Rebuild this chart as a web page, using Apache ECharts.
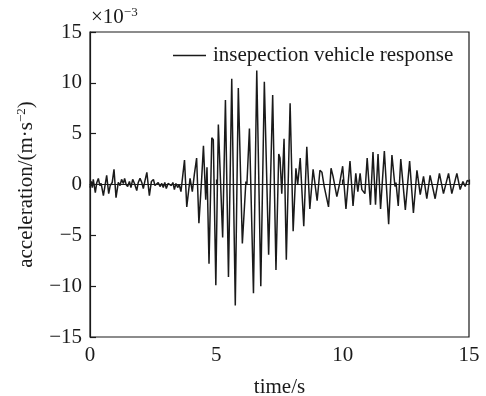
<!DOCTYPE html>
<html>
<head>
<meta charset="utf-8">
<script src="https://cdn.jsdelivr.net/npm/echarts@6/dist/echarts.min.js"></script>
<style>
  html, body { margin: 0; padding: 0; background: #fff; }
  #chart { width: 486px; height: 396px; }
</style>
</head>
<body>
<div id="chart"></div>
<script>
// Vertical acceleration of the inspection vehicle (values in units of 1e-3 m/s^2)
const timeS = [
  0.00, 0.05, 0.09, 0.13, 0.21, 0.27, 0.33, 0.39, 0.44, 0.53, 0.66, 0.74, 0.80, 0.88, 0.95,
  1.03, 1.12, 1.19, 1.25, 1.32, 1.37, 1.43, 1.49, 1.56, 1.62, 1.69, 1.76, 1.85, 1.91, 1.98,
  2.05, 2.11, 2.17, 2.25, 2.35, 2.43, 2.51, 2.57, 2.64, 2.70, 2.77, 2.84, 2.90, 2.96, 3.02,
  3.09, 3.16, 3.22, 3.28, 3.34, 3.40, 3.47, 3.53, 3.60, 3.74, 3.83, 3.96, 4.05, 4.13, 4.22,
  4.31, 4.42, 4.49, 4.58, 4.63, 4.71, 4.82, 4.88, 4.98, 5.08, 5.25, 5.36, 5.48, 5.61, 5.75,
  5.87, 6.03, 6.17, 6.21, 6.31, 6.47, 6.60, 6.76, 6.90, 7.07, 7.23, 7.36, 7.47, 7.52, 7.59,
  7.68, 7.77, 7.92, 8.04, 8.15, 8.22, 8.32, 8.46, 8.58, 8.70, 8.83, 8.99, 9.10, 9.18, 9.27,
  9.44, 9.54, 9.62, 9.77, 9.88, 10.00, 10.13, 10.29, 10.41, 10.52, 10.60, 10.69, 10.76, 10.83, 10.88,
  10.97, 11.10, 11.20, 11.30, 11.40, 11.50, 11.65, 11.82, 11.95, 12.07, 12.11, 12.20, 12.30, 12.48, 12.65,
  12.80, 12.94, 13.07, 13.20, 13.33, 13.46, 13.66, 13.83, 13.99, 14.19, 14.32, 14.52, 14.65, 14.76, 14.85,
  14.93, 15.00
];
const accel = [
  -0.3, 0.3, -0.3, 0.5, -0.8, 0.2, 0.6, -0.1, 0.1, -1.1, 0.9, -0.9, -0.1, 0.2, 1.5,
  -1.3, 0.2, -0.1, 0.5, 0.1, 0.6, 0.0, -0.2, 0.3, -0.3, 0.5, 0.1, -0.6, 0.2, 0.6,
  0.2, -0.4, 0.3, 1.2, -1.1, 0.3, 0.5, -0.1, 0.0, 0.2, -0.2, 0.1, -0.3, 0.2, -0.4,
  0.1, 0.0, -0.1, 0.2, -0.5, 0.1, -0.3, 0.0, -0.7, 2.4, -2.2, 0.6, -0.7, 1.0, 2.6,
  -3.8, 0.6, 3.8, -1.5, 1.7, -7.8, 4.6, 4.4, -9.9, 5.9, -5.2, 8.3, -9.1, 10.4, -11.9,
  9.5, -5.8, 0.3, 0.0, 5.5, -10.7, 11.2, -10.0, 10.1, -6.9, 8.8, -8.4, 3.0, 2.6, -0.9,
  4.5, -7.4, 8.0, -4.6, 1.6, 0.0, 2.6, -4.1, 3.7, -2.4, 1.5, -1.6, 1.4, 1.2, -0.2,
  -2.2, 1.6, 0.8, -1.2, 0.1, 1.8, -2.4, 2.3, -2.1, 1.1, -0.7, 1.1, -0.5, -0.4, -0.9,
  2.6, -2.0, 3.2, -2.0, 3.0, -2.4, 3.3, -3.9, 2.9, -0.2, 0.2, -2.1, 2.5, -2.5, 2.3,
  -2.8, 1.4, -1.0, 0.8, -1.4, 0.9, -1.4, 1.1, -0.9, 1.1, -0.9, 1.1, -0.5, 0.3, -0.2,
  0.4, 0.3
];
const xTicks = [0, 5, 10, 15];
const yTicks = [-15, -10, -5, 0, 5, 10, 15];

const FONT = '"Liberation Serif", "DejaVu Serif", serif';
const INK = '#1a1a1a';
const FS = 21;

const fmtNum = v => (v < 0 ? '\u2212' + Math.abs(v) : String(v));
const supStyle = { fontFamily: FONT, fontSize: 13, color: INK, fill: INK, verticalAlign: 'top', padding: [0, 0, 9, 0] };

const chart = echarts.init(document.getElementById('chart'), null, { renderer: 'canvas' });

chart.setOption({
  animation: false,
  backgroundColor: '#fff',
  grid: {
    left: 90, right: 17, top: 32, bottom: 59,
    outerBoundsMode: 'none', containLabel: false,
    show: true, borderColor: INK, borderWidth: 1.2, backgroundColor: 'transparent'
  },
  legend: {
    data: ['insepection vehicle response'],
    left: 168, top: 40,
    icon: 'rect', itemWidth: 33, itemHeight: 1.3, itemGap: 6,
    textStyle: { fontFamily: FONT, fontSize: FS, color: INK, padding: [0, 0, 0, 2] }
  },
  xAxis: {
    type: 'value', min: xTicks[0], max: xTicks[xTicks.length - 1], interval: 5,
    name: 'time/s', nameLocation: 'middle', nameGap: 40,
    nameTextStyle: { fontFamily: FONT, fontSize: FS, color: INK },
    axisLine: { lineStyle: { color: INK, width: 1.2 } },
    axisTick: { inside: true, length: 5, lineStyle: { color: INK, width: 1.2 } },
    axisLabel: { fontFamily: FONT, fontSize: FS, color: INK, margin: 8, formatter: fmtNum },
    splitLine: { show: false }
  },
  yAxis: {
    type: 'value', min: yTicks[0], max: yTicks[yTicks.length - 1], interval: 5,
    name: 'acceleration/(m\u00b7s{sup|\u22122})', nameLocation: 'middle', nameGap: 53, nameRotate: 90,
    nameTextStyle: { fontFamily: FONT, fontSize: FS, color: INK, rich: { sup: supStyle } },
    axisLine: { lineStyle: { color: INK, width: 1.2 } },
    axisTick: { inside: true, length: 6, lineStyle: { color: INK, width: 1.2 } },
    axisLabel: { fontFamily: FONT, fontSize: FS, color: INK, margin: 8, formatter: fmtNum },
    splitLine: { show: false }
  },
  graphic: [{
    type: 'text', left: 91, top: 6,
    style: {
      text: '\u00d710{sup|\u22123}',
      fontFamily: FONT, fontSize: FS, fill: INK,
      rich: { sup: supStyle }
    }
  }],
  series: [{
    name: 'insepection vehicle response',
    type: 'line',
    data: timeS.map((t, i) => [t, accel[i]]),
    symbol: 'none',
    lineStyle: { color: INK, width: 1.5 },
    itemStyle: { color: INK }
  }]
});
</script>
</body>
</html>
